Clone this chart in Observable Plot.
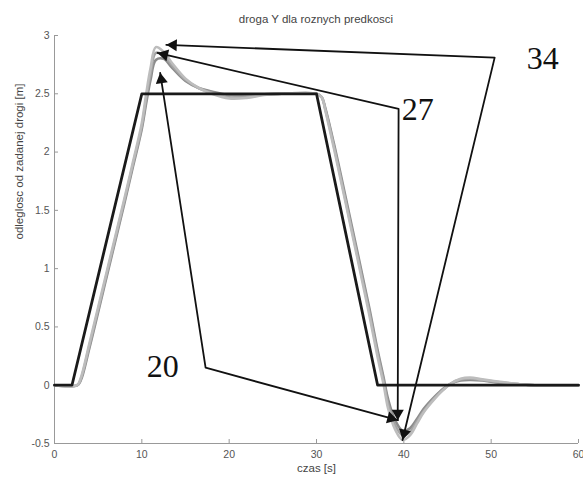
<!DOCTYPE html>
<html>
<head>
<meta charset="utf-8">
<script src="https://cdn.jsdelivr.net/npm/d3@7"></script>
<script src="https://cdn.jsdelivr.net/npm/@observablehq/plot@0.6"></script>
<style>
  body { margin: 0; background: #fff; }
  #title { width: 583px; height: 28px; box-sizing: border-box; padding: 13px 5px 0 54px;
           font: 11.5px "Liberation Sans", Arial, sans-serif; color: #444; text-align: center; line-height: 13px; }
</style>
</head>
<body>
<div id="title">droga Y dla roznych predkosci</div>
<div id="chart"></div>
<script>
// ---- data ----
const xTicks = [0, 10, 20, 30, 40, 50, 60];
const yTicks = [-0.5, 0, 0.5, 1, 1.5, 2, 2.5, 3];
const xLabel = "czas [s]";
const yLabel = "odleglosc od zadanej drogi [m]";

// reference (commanded) path
const timeRef = [0, 2, 10, 30, 37, 60];
const valRef  = [0, 0, 2.5, 2.5, 0, 0];

// responses for three speeds
const timeResp = [0, 2.6, 3, 4, 6, 8, 9, 10, 10.5, 11, 11.6, 12.5, 13.5, 15, 16.5, 18, 20, 22, 24, 26, 30, 30.6, 31, 32, 34, 36, 37, 37.7, 38.2, 39, 39.85, 40.7, 41.5, 42.3, 43.5, 44.5, 45.3, 46.5, 47.6, 49, 51, 53, 55, 60];
const resp34 = [0, 0, 0.06, 0.36, 0.98, 1.6, 1.92, 2.25, 2.5, 2.72, 2.9, 2.86, 2.76, 2.63, 2.55, 2.5, 2.46, 2.465, 2.49, 2.5, 2.5, 2.47, 2.36, 2.03, 1.33, 0.62, 0.24, 0, -0.2, -0.38, -0.47, -0.43, -0.33, -0.23, -0.12, -0.04, 0.01, 0.055, 0.065, 0.05, 0.03, 0.01, 0, 0];
const resp27 = [0, 0, 0.05, 0.34, 0.96, 1.58, 1.9, 2.22, 2.46, 2.67, 2.85, 2.83, 2.74, 2.62, 2.55, 2.51, 2.47, 2.475, 2.495, 2.5, 2.5, 2.47, 2.37, 2.05, 1.35, 0.65, 0.27, 0.03, -0.16, -0.34, -0.43, -0.4, -0.31, -0.22, -0.11, -0.04, 0.01, 0.05, 0.055, 0.045, 0.025, 0.01, 0, 0];
const resp20 = [0, 0, 0.04, 0.32, 0.94, 1.56, 1.88, 2.2, 2.42, 2.62, 2.79, 2.8, 2.72, 2.61, 2.55, 2.52, 2.49, 2.485, 2.495, 2.5, 2.5, 2.47, 2.38, 2.07, 1.38, 0.68, 0.3, 0.06, -0.12, -0.3, -0.39, -0.37, -0.29, -0.2, -0.1, -0.03, 0.01, 0.04, 0.045, 0.04, 0.02, 0.01, 0, 0];

// annotations: label, label position, and polyline (tip -> corner -> tip)
const annLabels = ["20", "27", "34"];
const annLabelT = [12.4, 41.6, 55.9];
const annLabelY = [0.16, 2.36, 2.80];
const annPathT = [[12.1, 17.3, 39.3], [11.8, 39.4, 39.3], [12.8, 50.4, 39.85]];
const annPathY = [[2.68, 0.15, -0.30], [2.85, 2.37, -0.30], [2.92, 2.81, -0.47]];

// ---- layout ----
const W = 583, H = 449, mL = 54, mR = 5, mT = 7, mB = 34;
const plotW = W - mL - mR, plotH = H - mT - mB;
const kx = plotW / 60, ky = plotH / 3.5;

const refData = timeRef.map((t, i) => ({t, v: valRef[i]}));
const respData = [
  ...timeResp.map((t, i) => ({t, v: resp20[i], s: "20"})),
  ...timeResp.map((t, i) => ({t, v: resp27[i], s: "27"})),
  ...timeResp.map((t, i) => ({t, v: resp34[i], s: "34"}))
];
const respColor = {"20": "#8c8c8c", "27": "#a4a4a4", "34": "#bdbdbd"};

const annLines = [];
const heads = [];
annLabels.forEach((lab, k) => {
  const T = annPathT[k], Y = annPathY[k];
  T.forEach((t, i) => annLines.push({t, v: Y[i], s: lab}));
  [[0, 1], [2, 1]].forEach(([tip, from]) => {
    const dx = (T[tip] - T[from]) * kx, dy = -(Y[tip] - Y[from]) * ky;
    const len = Math.hypot(dx, dy), ux = dx / len, uy = dy / len;
    const back = 7;
    heads.push({
      t: T[tip] - ux * back / kx,
      v: Y[tip] + uy * back / ky,
      rot: Math.atan2(dx, -dy) * 180 / Math.PI
    });
  });
});

const chart = Plot.plot({
  width: W, height: H,
  marginLeft: mL, marginRight: mR, marginTop: mT, marginBottom: mB,
  style: {fontFamily: "'Liberation Sans', Arial, sans-serif", fontSize: "10.5px", color: "#555", background: "#fff"},
  x: {domain: [0, 60], ticks: xTicks, tickSize: 0, tickPadding: 7, tickFormat: d => String(d), label: null},
  y: {domain: [-0.5, 3], ticks: yTicks, tickSize: 0, tickPadding: 5, tickFormat: d => String(d), label: null},
  marks: [
    Plot.ruleX([0], {stroke: "#999"}),
    Plot.ruleY([-0.5], {stroke: "#999"}),
    Plot.ruleX(xTicks, {x: d => d, stroke: "#999", insetTop: plotH - 4}),
    Plot.ruleY(yTicks, {y: d => d, stroke: "#999", insetRight: plotW - 4}),
    Plot.text([xLabel], {frameAnchor: "bottom", dy: 28, text: d => d, fontSize: 11.5, fill: "#444"}),
    Plot.text([yLabel], {frameAnchor: "left", dx: -35, rotate: -90, text: d => d, fontSize: 11.5, fill: "#444"}),
    Plot.line(respData, {x: "t", y: "v", z: "s", stroke: d => respColor[d.s], strokeWidth: 2.6, curve: "catmull-rom"}),
    Plot.line(refData, {x: "t", y: "v", stroke: "#1a1a1a", strokeWidth: 2.8}),
    Plot.line(annLines, {x: "t", y: "v", z: "s", stroke: "#111", strokeWidth: 1.8}),
    Plot.dot(heads, {x: "t", y: "v", symbol: "triangle", r: 4.5, rotate: "rot", fill: "#111", stroke: "none"}),
    Plot.text(annLabels, {x: (d, i) => annLabelT[i], y: (d, i) => annLabelY[i], text: d => d,
      fontFamily: "'Liberation Serif', 'Times New Roman', serif", fontSize: 32, fill: "#111"})
  ]
});
chart.style.display = "block";
document.getElementById("chart").append(chart);
</script>
</body>
</html>
